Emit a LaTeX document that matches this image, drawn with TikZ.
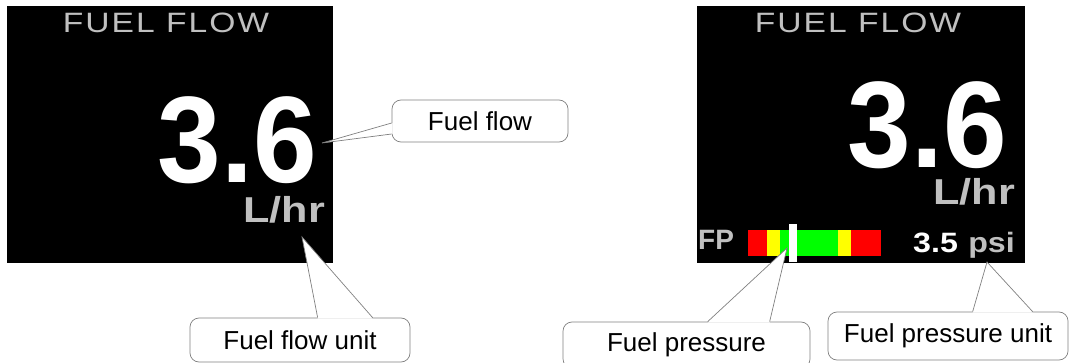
\documentclass[tikz,border=0pt]{standalone}
\usepackage{fontspec}
\setmainfont{Liberation Sans}
\newfontfamily\screenfont[LetterSpace=6]{Liberation Sans}
\usepackage{tikz}
\definecolor{lcdgray}{RGB}{192,192,192}
\definecolor{lcdred}{RGB}{255,0,0}
\definecolor{lcdyellow}{RGB}{255,255,0}
\definecolor{lcdgreen}{RGB}{0,255,0}
\definecolor{calloutgray}{RGB}{128,128,128}
\tikzset{
  screen/.style={fill=black},
  title/.style={text=lcdgray,inner sep=0pt,font=\screenfont\fontsize{28}{28}\selectfont},
  reading/.style={text=white,inner sep=0pt,font=\bfseries\fontsize{123}{123}\selectfont},
  unittext/.style={text=lcdgray,inner sep=0pt,font=\bfseries\fontsize{36}{36}\selectfont},
  small/.style={inner sep=0pt,font=\bfseries\fontsize{28}{28}\selectfont},
  callout/.style={draw=calloutgray,fill=white,line width=0.7pt,rounded corners=9pt,inner sep=0pt,font=\fontsize{26}{26}\selectfont},
  pointer/.style={draw=calloutgray,line width=0.7pt}
}

\begin{document}
\begin{tikzpicture}[x=1pt,y=-1pt]
        \useasboundingbox (0,0) rectangle (1070,363);
        % left screen
        \fill[screen] (7,6) rectangle (333,263);
        \node[title,anchor=base] (titleA) at (166,33) {\scalebox{1.2}[1]{FUEL FLOW}};
        \node[reading,anchor=base east] (flowA) at (317,183) {\scalebox{0.93}[1]{3.6}};
        \node[unittext,anchor=base east] (unitA) at (325,223) {\scalebox{1.2}[1]{L/hr}};
        % right screen
        \fill[screen] (697,6) rectangle (1025,263);
        \node[title,anchor=base] (titleB) at (858,33) {\scalebox{1.2}[1]{FUEL FLOW}};
        \node[reading,anchor=base east] (flowB) at (1007,168) {\scalebox{0.93}[1]{3.6}};
        \node[unittext,anchor=base east] (unitB) at (1015,205) {\scalebox{1.2}[1]{L/hr}};
        \node[small,text=lcdgray,anchor=base west] (fp) at (698,250) {FP};
        \fill[lcdred] (748,230) rectangle (767,256);
        \fill[lcdyellow] (767,230) rectangle (780,256);
        \fill[lcdgreen] (780,230) rectangle (838,256);
        \fill[lcdyellow] (838,230) rectangle (851,256);
        \fill[lcdred] (851,230) rectangle (881,256);
        \fill[white] (789,224) rectangle (797,262);
        \node[small,text=white,anchor=base west] (press) at (913,252) {\scalebox{1.15}[1]{3.5}};
        \node[small,text=lcdgray,anchor=base east] (psi) at (1015,252) {\scalebox{1.15}[1]{psi}};
        % callouts
        \node[callout,minimum width=176pt,minimum height=42pt] (flowbox) at (480,121) {Fuel flow};
        \node[callout,minimum width=220pt,minimum height=44pt] (unitbox) at (300,340) {Fuel flow unit};
        \node[callout,minimum width=247pt,minimum height=46pt] (pressbox) at (686.5,345) {Fuel pressure};
        \node[callout,minimum width=240pt,minimum height=48pt] (punitbox) at (948,336) {Fuel pressure unit};
        \coordinate (flowtip) at (322,143);
        \coordinate (unittip) at (302,237);
        \coordinate (presstip) at (787,248);
        \coordinate (punittip) at (987,262);
        \fill[white] ([xshift=1pt,yshift=-2pt]flowbox.west) -- (flowtip) -- ([xshift=1pt,yshift=-13pt]flowbox.west) -- cycle;
        \draw[pointer] ([yshift=-2pt]flowbox.west) -- (flowtip) -- ([yshift=-13pt]flowbox.west);
        \fill[white] ([xshift=128pt,yshift=-1pt]unitbox.north west) -- (unittip) -- ([xshift=183pt,yshift=-1pt]unitbox.north west) -- cycle;
        \draw[pointer] ([xshift=128pt]unitbox.north west) -- (unittip) -- ([xshift=183pt]unitbox.north west);
        \fill[white] ([xshift=145pt,yshift=-1pt]pressbox.north west) -- (presstip) -- ([xshift=207pt,yshift=-1pt]pressbox.north west) -- cycle;
        \draw[pointer] ([xshift=145pt]pressbox.north west) -- (presstip) -- ([xshift=207pt]pressbox.north west);
        \fill[white] ([xshift=145pt,yshift=-1pt]punitbox.north west) -- (punittip) -- ([xshift=205pt,yshift=-1pt]punitbox.north west) -- cycle;
        \draw[pointer] ([xshift=145pt]punitbox.north west) -- (punittip) -- ([xshift=205pt]punitbox.north west);
\end{tikzpicture}
\end{document}
